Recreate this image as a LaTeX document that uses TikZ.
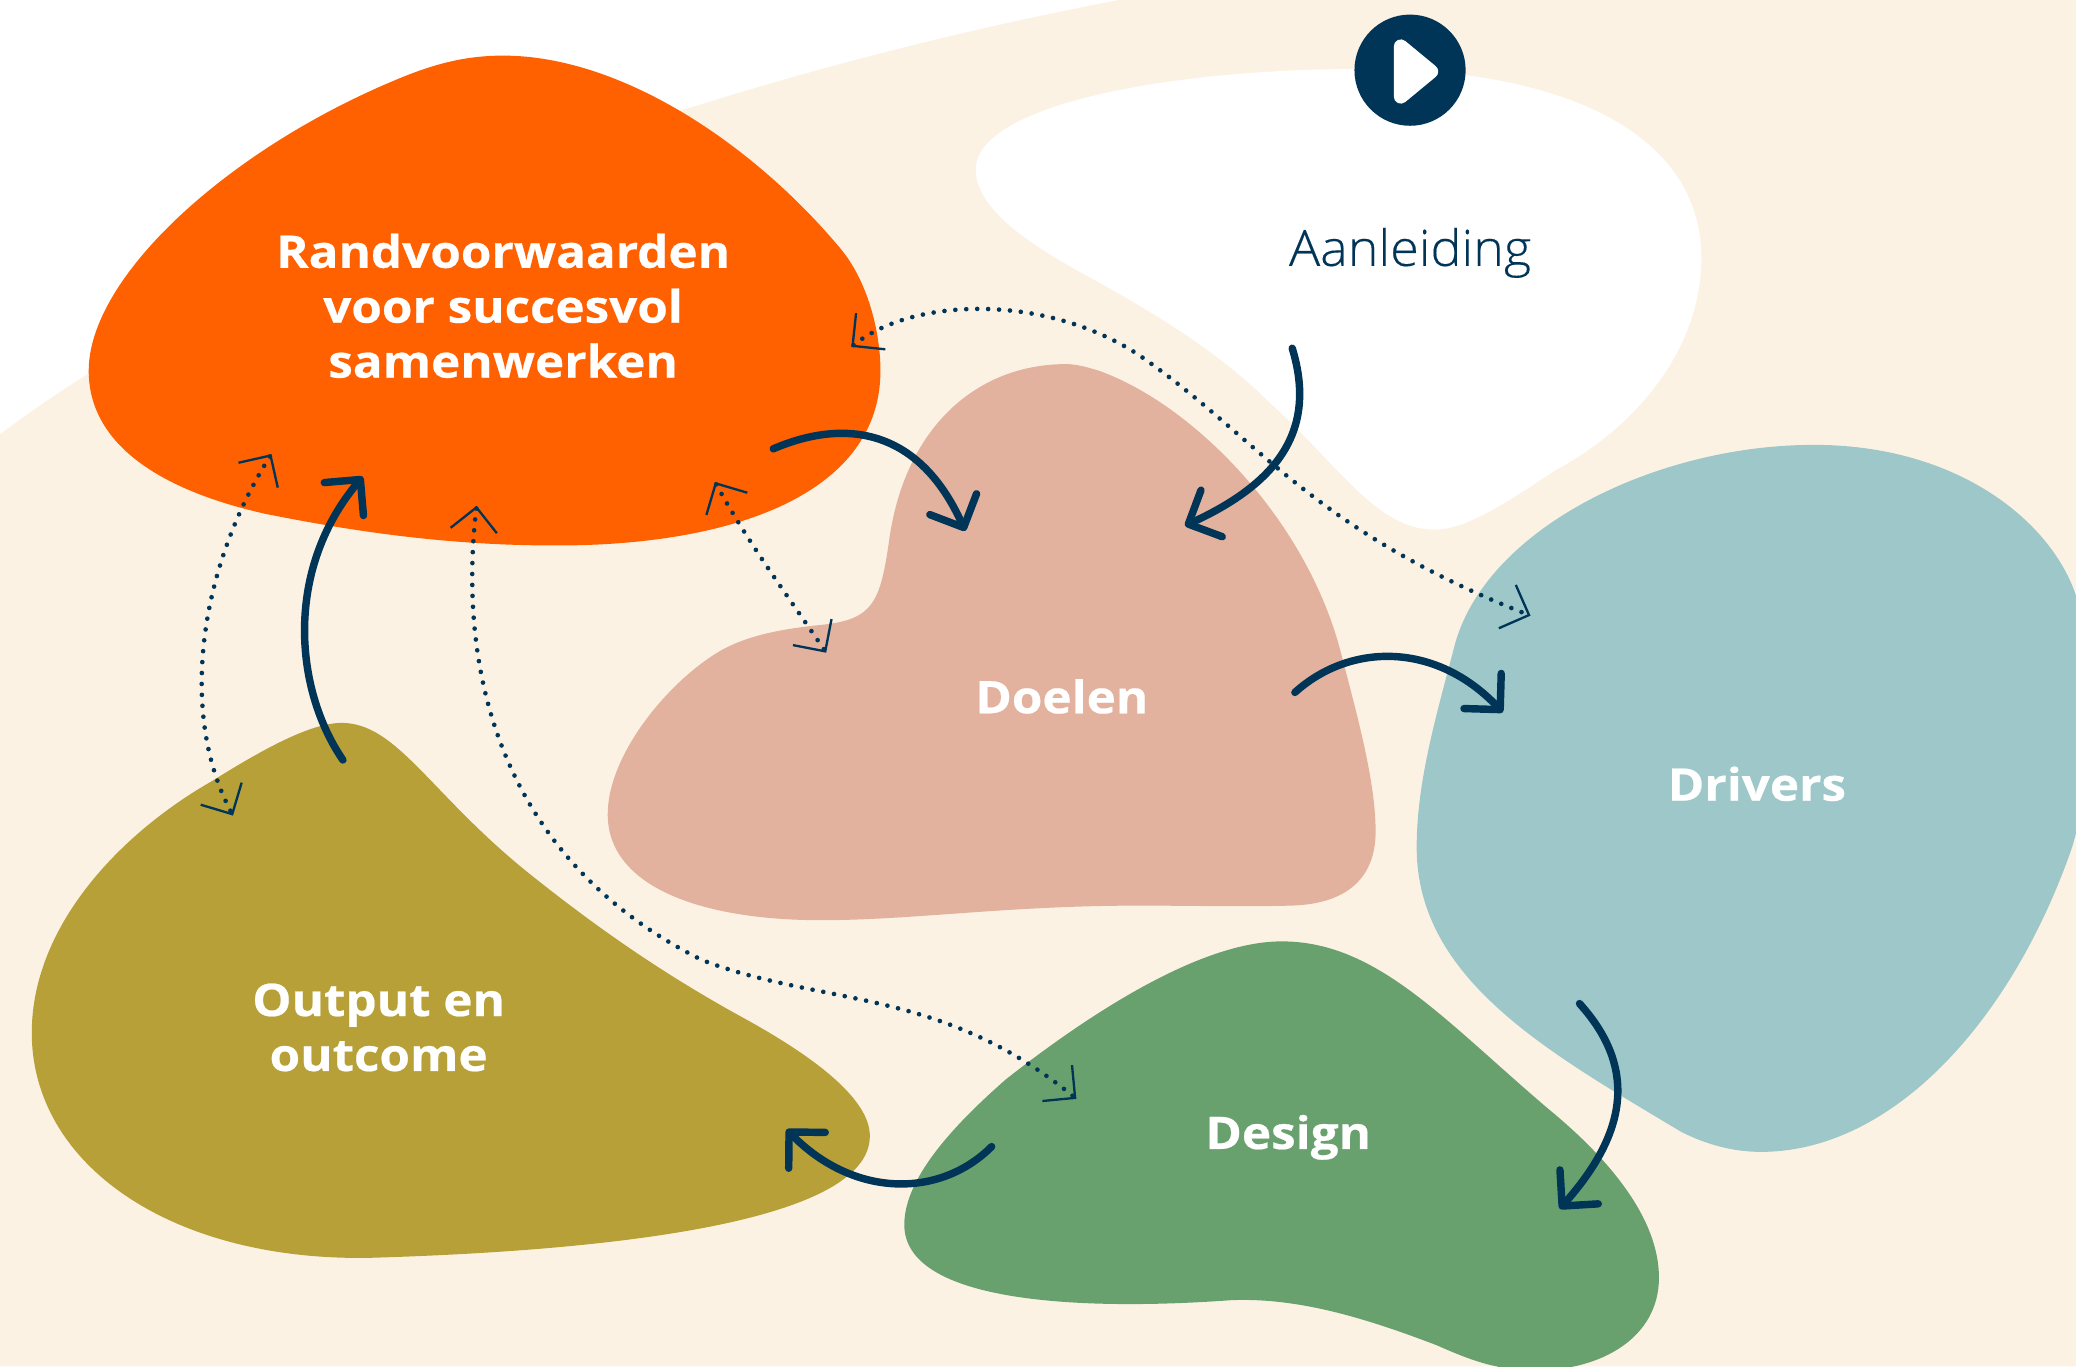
\documentclass[tikz,border=0pt]{standalone}
\usepackage{fontspec}
\setmainfont{Open Sans}
\newfontfamily\labelfont[FakeStretch=1.1,BoldFeatures={FakeBold=0.5}]{Open Sans}
\newfontfamily\lightfont[FakeStretch=1.04,FakeBold=0.25]{Open Sans Light}
\usetikzlibrary{arrows.meta}
\definecolor{cream}{HTML}{FCF2E4}
\definecolor{navy}{HTML}{003558}
\definecolor{orangeblob}{HTML}{FF6000}
\definecolor{doelblob}{HTML}{E2B29E}
\definecolor{driverblob}{HTML}{9DC7C8}
\definecolor{designblob}{HTML}{69A16E}
\definecolor{outputblob}{HTML}{B6A037}
\tikzset{
	label/.style={align=center,text=white,font=\labelfont\fontsize{19.3}{23.6}\selectfont\bfseries,inner sep=0pt},
	flow/.style={draw=navy,line width=3.2pt,line cap=round,-{Straight Barb[round,length=11pt,width=22pt,line width=3.2pt]}},
	link/.style={draw=navy,line width=2pt,line cap=round,dash pattern=on 0pt off 4.7pt,{Straight Barb[length=10pt,width=20pt,line width=1pt]}-{Straight Barb[length=10pt,width=20pt,line width=1pt]}}
}
\begin{document}
\begin{tikzpicture}[x=0.02cm,y=-0.02cm]
	\useasboundingbox (0,0) rectangle (1568,1032);
	\clip (0,0) rectangle (1568,1032);
	% background
	\fill[white] (0,0) rectangle (1568,1032);
	\fill[cream] (0,328) .. controls (170,200) and (480,70) .. (845,0) -- (1568,0) -- (1568,1032) -- (0,1032) -- cycle;
	% blobs
	\fill[white] (737,128) .. controls (737,80) and (880,52) .. (1030,52) .. controls (1180,52) and (1285,100) .. (1285,195) .. controls (1285,260) and (1240,320) .. (1175,355) .. controls (1130,385) and (1105,400) .. (1083,400) .. controls (1040,400) and (1010,350) .. (960,305) .. controls (920,265) and (870,235) .. (815,205) .. controls (770,180) and (737,155) .. (737,128) -- cycle;
	\fill[orangeblob] (380,42) .. controls (470,42) and (570,110) .. (635,188) .. controls (655,212) and (665,250) .. (665,280) .. controls (665,370) and (560,412) .. (420,412) .. controls (340,412) and (270,402) .. (200,388) .. controls (120,370) and (67,335) .. (67,280) .. controls (67,210) and (170,115) .. (295,62) .. controls (325,49) and (350,42) .. (380,42) -- cycle;
	\fill[doelblob] (805,275) .. controls (740,275) and (685,320) .. (672,405) .. controls (665,455) and (660,468) .. (620,472) .. controls (590,475) and (565,480) .. (545,491) .. controls (505,514) and (459,570) .. (459,615) .. controls (459,670) and (530,695) .. (620,695) .. controls (690,695) and (760,684) .. (860,684) .. controls (900,684) and (940,685) .. (975,684) .. controls (1015,683) and (1039,665) .. (1039,628) .. controls (1039,590) and (1025,540) .. (1012,490) .. controls (985,390) and (900,305) .. (830,280) .. controls (820,277) and (813,275) .. (805,275) -- cycle;
	\fill[driverblob] (1370,336) .. controls (1480,336) and (1550,395) .. (1568,450) .. controls (1585,520) and (1580,590) .. (1565,640) .. controls (1520,770) and (1430,870) .. (1330,870) .. controls (1310,870) and (1290,865) .. (1270,855) .. controls (1170,795) and (1070,740) .. (1070,640) .. controls (1070,590) and (1085,540) .. (1098,490) .. controls (1120,400) and (1250,336) .. (1370,336) -- cycle;
	\fill[designblob] (968,711) .. controls (1040,711) and (1090,770) .. (1170,838) .. controls (1215,875) and (1253,920) .. (1253,965) .. controls (1253,1010) and (1210,1035) .. (1160,1035) .. controls (1130,1035) and (1110,1027) .. (1085,1016) .. controls (1030,995) and (980,980) .. (930,982) .. controls (820,990) and (683,985) .. (683,925) .. controls (683,890) and (720,850) .. (760,815) .. controls (830,760) and (910,711) .. (968,711) -- cycle;
	\fill[outputblob] (258,546) .. controls (300,546) and (325,600) .. (400,660) .. controls (450,700) and (500,735) .. (560,768) .. controls (615,798) and (657,830) .. (657,858) .. controls (657,925) and (450,945) .. (280,950) .. controls (130,953) and (24,880) .. (24,780) .. controls (24,700) and (90,630) .. (160,590) .. controls (200,565) and (235,546) .. (258,546) -- cycle;
	% play button
	\node[shape=circle,fill=navy,minimum size=1.68cm,inner sep=0pt] (play) at (1065,53) {};
	\fill[white,draw=white,line width=6pt,line join=round] (1058,35) -- (1081,54) -- (1058,73) -- cycle;
	% labels
	\node[label] (rand) at (380,231) {Randvoorwaarden\\voor succesvol\\samenwerken};
	\node[text=navy,font=\lightfont\fontsize{21.5}{26}\selectfont,inner sep=0pt] (aanl) at (1065,191) {Aanleiding};
	\node[label] (doel) at (802,526) {Doelen};
	\node[label] (driv) at (1327,592) {Drivers};
	\node[label] (desi) at (973,859) {Design};
	\node[label] (outp) at (286,776) {Output en\\outcome};
	% ends of the arrows
	\coordinate (a1) at (976,263);
	\coordinate (a2) at (895,397);
	\coordinate (b1) at (584,339);
	\coordinate (b2) at (729,401);
	\coordinate (c1) at (978,523);
	\coordinate (c2) at (1135,538);
	\coordinate (d1) at (1193,758);
	\coordinate (d2) at (1178,913);
	\coordinate (e1) at (749,866);
	\coordinate (e2) at (594,853);
	\coordinate (f1) at (259,574);
	\coordinate (f2) at (274,360);
	\coordinate (g1) at (643,262);
	\coordinate (g2) at (1156,465);
	\coordinate (h1) at (205,343);
	\coordinate (h2) at (176,616);
	\coordinate (i1) at (360,382);
	\coordinate (i2) at (813,830);
	\coordinate (j1) at (540,364);
	\coordinate (j2) at (624,493);
	% dotted links
	\draw[link] (g1) .. controls (690,224) and (790,222) .. (860,268) .. controls (950,330) and (990,400) .. (g2);
	\draw[link] (h1) .. controls (150,430) and (135,540) .. (h2);
	\draw[link] (i1) .. controls (345,510) and (380,650) .. (530,725) .. controls (620,760) and (710,745) .. (i2);
	\draw[link] (j1) .. controls (565,410) and (595,450) .. (j2);
	% arrows
	\draw[flow] (a1) .. controls (995,325) and (965,365) .. (a2);
	\draw[flow] (b1) .. controls (640,315) and (695,325) .. (b2);
	\draw[flow] (c1) .. controls (1020,485) and (1085,485) .. (c2);
	\draw[flow] (d1) .. controls (1240,810) and (1225,860) .. (d2);
	\draw[flow] (e1) .. controls (710,905) and (645,905) .. (e2);
	\draw[flow] (f1) .. controls (222,520) and (215,430) .. (f2);
\end{tikzpicture}
\end{document}
